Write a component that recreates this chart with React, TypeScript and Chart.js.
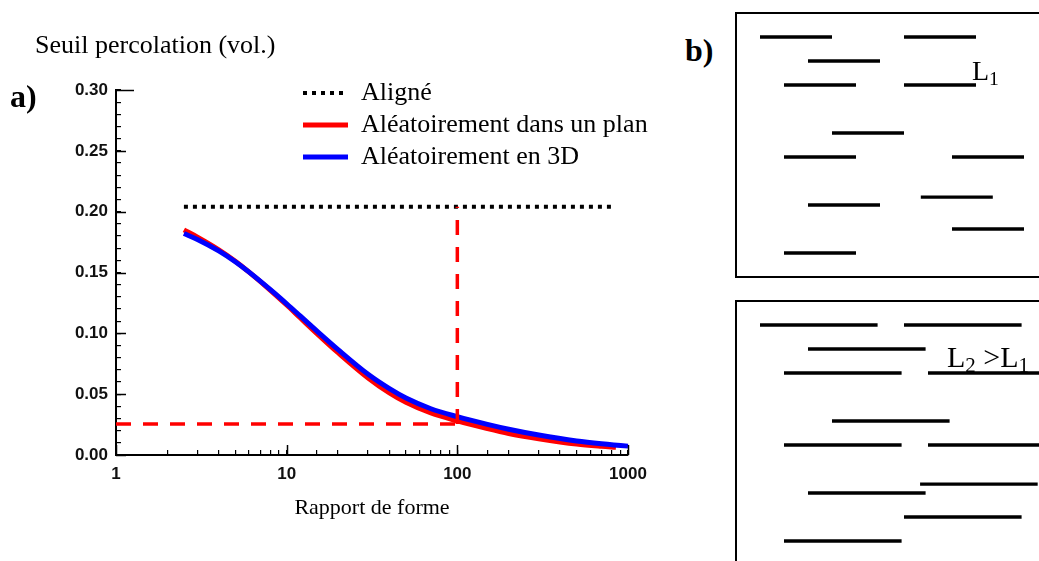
import React, { useEffect, useRef } from "react";
import { Chart, registerables } from "chart.js";

Chart.register(...registerables);

// ---------- data (panel a) ----------
const aspectRatio3D = [2.5, 3, 4, 5, 6, 8, 10, 12, 15, 20, 30, 40, 50, 70, 100, 150, 200, 300, 500, 700, 1000, 1180];
const threshold3D = [0.182, 0.1771, 0.1677, 0.1588, 0.1505, 0.1361, 0.1243, 0.1143, 0.102, 0.0866, 0.0663, 0.0545, 0.0468, 0.038, 0.0315, 0.0252, 0.0212, 0.0164, 0.0115, 0.0092, 0.0073, 0.0066];
const aspectRatioPlane = [2.5, 3, 4, 5, 6, 8, 10, 12, 15, 20, 30, 40, 50, 70, 100, 150, 200, 300, 500, 700, 850];
const thresholdPlane = [0.185, 0.1791, 0.1687, 0.1593, 0.1505, 0.1356, 0.1233, 0.1128, 0.1, 0.0841, 0.0633, 0.051, 0.0433, 0.0345, 0.028, 0.0217, 0.0177, 0.0134, 0.009, 0.0072, 0.0064];
const alignedRange = [2.5, 800];
const alignedThreshold = 0.204;
const markerAspectRatio = 100;
const markerThreshold = 0.0255;
const xTickLabels = ["1", "10", "100", "1000"];
const yTickLabels = ["0.00", "0.05", "0.10", "0.15", "0.20", "0.25", "0.30"];
const seriesNames = ["Aligné", "Aléatoirement dans un plan", "Aléatoirement en 3D"];

// ---------- data (panel b) : fibre start (x) and row (y), in fibre-grid units ----------
const fibresL1: number[][] = [[1, 1], [7, 1], [3, 2], [2, 3], [7, 3], [4, 5], [2, 6], [9, 6], [7.7, 7.67], [3, 8], [9, 9], [2, 10]];
const fibresL2: number[][] = [[1, 1], [7, 1], [3, 2], [2, 3], [8, 3], [4, 5], [2, 6], [8, 6], [7.67, 7.63], [3, 8], [7, 9], [2, 10]];
const lengthL1 = 3;
const lengthL2 = 4.9;

const SERIF = "'Liberation Serif', 'Times New Roman', serif";
const SANS = "'Liberation Sans', Arial, sans-serif";

const legendPlacer = {
  id: "legendPlacer",
  afterLayout(chart: any) {
    const lg = chart.legend;
    if (!lg) return;
    lg.left = 297;
    lg.top = 74;
    lg.right = 297 + lg.width;
    lg.bottom = 74 + 200;
  },
};

const majorTicks = {
  id: "majorTicks",
  afterDraw(chart: any) {
    const { ctx, chartArea, scales } = chart;
    ctx.save();
    ctx.strokeStyle = "#000";
    ctx.lineWidth = 1.5;
    scales.y.ticks.forEach((t: any) => {
      const label = Number(t.value).toFixed(2);
      if (yTickLabels.includes(label)) {
        const py = Math.round(scales.y.getPixelForValue(t.value)) + 0.5;
        const len = label === yTickLabels[yTickLabels.length - 1] ? 18 : 10;
        ctx.beginPath();
        ctx.moveTo(chartArea.left, py);
        ctx.lineTo(chartArea.left + len, py);
        ctx.stroke();
      }
    });
    scales.x.ticks.forEach((t: any) => {
      if (xTickLabels.includes(String(t.value))) {
        const px = Math.round(scales.x.getPixelForValue(t.value)) + 0.5;
        ctx.beginPath();
        ctx.moveTo(px, chartArea.bottom);
        ctx.lineTo(px, chartArea.bottom - 10);
        ctx.stroke();
      }
    });
    ctx.restore();
  },
};

function PercolationChart() {
  const ref = useRef<HTMLCanvasElement>(null);
  useEffect(() => {
    const chart = new Chart(ref.current as HTMLCanvasElement, {
      type: "line",
      data: {
        datasets: [
          {
            label: seriesNames[0],
            data: alignedRange.map((x) => ({ x, y: alignedThreshold })),
            borderColor: "#000",
            backgroundColor: "#000",
            borderWidth: 4,
            borderDash: [4, 5],
            pointRadius: 0,
            order: 4,
          },
          {
            label: seriesNames[1],
            data: aspectRatioPlane.map((x, i) => ({ x, y: thresholdPlane[i] })),
            borderColor: "#ff0000",
            backgroundColor: "#ff0000",
            borderWidth: 5,
            pointRadius: 0,
            cubicInterpolationMode: "monotone",
            order: 3,
          },
          {
            label: seriesNames[2],
            data: aspectRatio3D.map((x, i) => ({ x, y: threshold3D[i] })),
            borderColor: "#0000ff",
            backgroundColor: "#0000ff",
            borderWidth: 5,
            pointRadius: 0,
            cubicInterpolationMode: "monotone",
            clip: false as any,
            order: 2,
          },
          {
            label: "marker-h",
            data: [
              { x: Number(xTickLabels[0]), y: markerThreshold },
              { x: markerAspectRatio, y: markerThreshold },
            ],
            borderColor: "#ff0000",
            borderWidth: 3.5,
            borderDash: [15, 12],
            pointRadius: 0,
            order: 1,
          },
          {
            label: "marker-v",
            data: [
              { x: markerAspectRatio, y: markerThreshold },
              { x: markerAspectRatio, y: alignedThreshold },
            ],
            borderColor: "#ff0000",
            borderWidth: 3.5,
            borderDash: [15, 12],
            pointRadius: 0,
            order: 1,
          },
        ],
      },
      options: {
        responsive: false,
        animation: false,
        events: [],
        layout: { padding: { left: 35, top: 0, right: 52, bottom: 0 } },
        scales: {
          x: {
            type: "logarithmic",
            min: 1,
            max: 1000,
            afterFit: (s: any) => {
              s.height = 106;
            },
            grid: { display: true, drawOnChartArea: false, drawTicks: true, tickLength: -5, color: "#000", lineWidth: 1.2 },
            border: { display: true, color: "#000", width: 2 },
            ticks: {
              autoSkip: false,
              maxRotation: 0,
              padding: 14,
              color: "#111",
              font: { family: SANS, size: 17, weight: "bold" },
              callback: (v: any) => (xTickLabels.includes(String(v)) ? String(v) : ""),
            },
            title: {
              display: true,
              text: "Rapport de forme",
              color: "#000",
              font: { family: SERIF, size: 22, weight: "normal" },
              padding: { top: 0, bottom: 40 },
            },
          },
          y: {
            type: "linear",
            min: 0,
            max: 0.3,
            afterFit: (s: any) => {
              s.width = 81;
            },
            grid: { display: true, drawOnChartArea: false, drawTicks: true, tickLength: -5, color: "#000", lineWidth: 1.2 },
            border: { display: true, color: "#000", width: 2 },
            ticks: {
              stepSize: 0.01,
              autoSkip: false,
              padding: 13,
              color: "#111",
              font: { family: SANS, size: 17, weight: "bold" },
              callback: (v: any) => {
                const s = Number(v).toFixed(2);
                return yTickLabels.includes(s) ? s : "";
              },
            },
          },
        },
        plugins: {
          title: {
            display: true,
            text: "Seuil percolation (vol.)",
            align: "start",
            color: "#000",
            font: { family: SERIF, size: 26, weight: "normal" },
            padding: { top: 31, bottom: 27.8 },
          },
          legend: {
            display: true,
            position: "chartArea",
            fullSize: false,
            align: "start",
            labels: {
              usePointStyle: true,
              pointStyle: "line",
              pointStyleWidth: 45,
              padding: 6,
              color: "#000",
              font: { family: SERIF, size: 26 },
              generateLabels: (chart: any) => {
                const items = Chart.defaults.plugins.legend.labels.generateLabels(chart);
                return items.map((it: any) => {
                  const ds = chart.data.datasets[it.datasetIndex];
                  return { ...it, lineDash: ds.borderDash || [], lineWidth: ds.borderWidth, strokeStyle: ds.borderColor, pointStyle: "line" };
                });
              },
              filter: (item: any) => item.datasetIndex <= 2,
              sort: (a: any, b: any) => a.datasetIndex - b.datasetIndex,
            },
          },
          tooltip: { enabled: false },
        },
      } as any,
      plugins: [legendPlacer, majorTicks],
    });
    return () => chart.destroy();
  }, []);
  return (
    <canvas
      ref={ref}
      width={680}
      height={561}
      style={{ position: "absolute", left: 0, top: 0, width: 680, height: 561 }}
    />
  );
}

function FibreBox({ fibres, length, left, top }: { fibres: number[][]; length: number; left: number; top: number }) {
  const ref = useRef<HTMLCanvasElement>(null);
  useEffect(() => {
    const hidden = {
      grid: { display: false },
      ticks: { display: false },
      border: { display: true, color: "#000", width: 2 },
    };
    const chart = new Chart(ref.current as HTMLCanvasElement, {
      type: "scatter",
      data: {
        datasets: fibres.map(([x, y]) => ({
          data: [
            { x, y },
            { x: x + length, y },
          ],
          showLine: true,
          borderColor: "#000",
          borderWidth: 3.3,
          pointRadius: 0,
        })),
      },
      options: {
        responsive: false,
        animation: false,
        events: [],
        layout: { padding: { left: 10, top: 10, right: 0, bottom: 10 } },
        scales: {
          x: { type: "linear", position: "bottom", min: 0, max: 14, ...hidden, afterFit: (s: any) => { s.height = 0; } },
          xTop: { type: "linear", position: "top", min: 0, max: 14, ...hidden, afterFit: (s: any) => { s.height = 0; } },
          y: { type: "linear", position: "left", min: 0, max: 11, reverse: true, ...hidden, afterFit: (s: any) => { s.width = 0; } },
        },
        plugins: { legend: { display: false }, tooltip: { enabled: false }, title: { display: false } },
      } as any,
    });
    return () => chart.destroy();
  }, []);
  return (
    <canvas
      ref={ref}
      width={346}
      height={284}
      style={{ position: "absolute", left, top, width: 346, height: 284 }}
    />
  );
}

export default function App() {
  const label: React.CSSProperties = { position: "absolute", lineHeight: 1, whiteSpace: "nowrap", color: "#000", fontFamily: SERIF };
  const sub: React.CSSProperties = { fontSize: "0.7em", position: "relative", top: "0.25em" };
  return (
    <div style={{ position: "fixed", left: 0, top: 0, width: 1039, height: 561, overflow: "hidden", background: "#fff" }}>
      <PercolationChart />
      <FibreBox fibres={fibresL1} length={lengthL1} left={726} top={3} />
      <FibreBox fibres={fibresL2} length={lengthL2} left={726} top={291} />
      <div style={{ ...label, left: 10, top: 80, fontSize: 32, fontWeight: "bold" }}>a)</div>
      <div style={{ ...label, left: 685, top: 34, fontSize: 32, fontWeight: "bold" }}>b)</div>
      <div style={{ ...label, left: 972, top: 57, fontSize: 28 }}>
        L<span style={sub}>1</span>
      </div>
      <div style={{ ...label, left: 947, top: 342, fontSize: 30 }}>
        L<span style={sub}>2</span> &gt;L<span style={sub}>1</span>
      </div>
    </div>
  );
}
